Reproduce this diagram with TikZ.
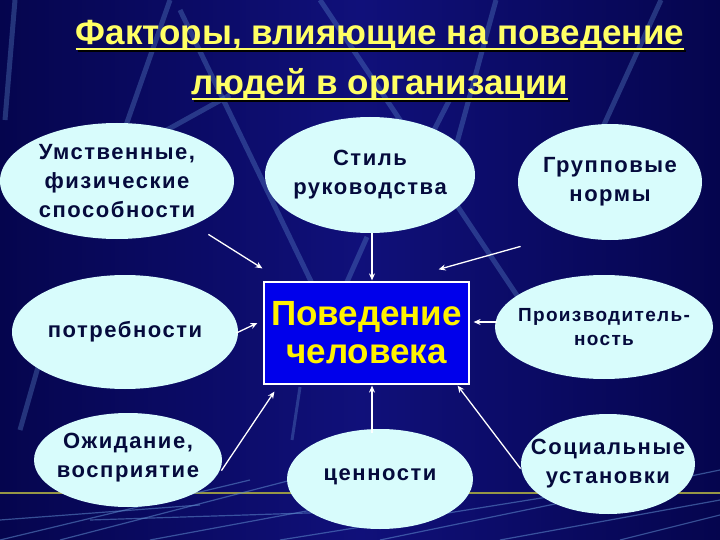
\documentclass[tikz,border=0pt]{standalone}
\usepackage{fontspec}
\setmainfont{Liberation Sans}
\newfontfamily\ellfont[LetterSpace=7]{Liberation Sans}
\usetikzlibrary{shapes.geometric,calc,arrows.meta}
\definecolor{bgdark}{RGB}{5,5,78}
\definecolor{bgmid}{RGB}{16,16,122}
\definecolor{ellfill}{RGB}{216,252,252}
\definecolor{elltext}{RGB}{5,10,60}
\definecolor{titleyel}{RGB}{255,255,100}
\definecolor{boxblue}{RGB}{0,0,235}
\definecolor{deco}{RGB}{95,140,205}
\definecolor{olive}{RGB}{150,150,70}
\tikzset{
  ell/.style={ellipse, fill=ellfill, draw=none, inner sep=0pt},
  etext/.style={inner sep=0pt, align=center, text=elltext,
    font=\ellfont\fontsize{22}{29}\selectfont\bfseries},
  arr/.style={draw=white, line width=1.3pt, -{Stealth[length=7pt,width=6pt]}},
  ttl/.style={inner sep=0pt, anchor=base, font=\fontsize{35}{40}\selectfont\bfseries},
  decoline/.style={draw=deco, line width=5pt, opacity=0.35},
  thinline/.style={draw=deco, line width=1.2pt, opacity=0.55}
}
\begin{document}
\begin{tikzpicture}[x=1pt,y=-1pt]
% background
\shade[left color=bgdark, right color=bgdark, middle color=bgmid] (0,0) rectangle (720,540);
\useasboundingbox (0,0) rectangle (720,540);
% decorative web lines
\draw[decoline] (180,10) -- (320,300);
\draw[decoline] (320,0) -- (520,300);
\draw[decoline] (496,0) -- (455,150);
\draw[decoline] (450,99) -- (431,136);
\draw[decoline] (367,237) -- (347,282);
\draw[decoline] (661,0) -- (597,140);
\draw[decoline] (124,131) -- (170,0);
\draw[decoline] (156,136) -- (230,95);
\draw[decoline] (15,0) -- (5,120);
\draw[decoline,line width=3pt] (300,387) -- (292,440);
\draw[decoline] (20,430) -- (40,360);
% bottom area
\draw[draw=olive, line width=2pt] (0,493) -- (720,493);
\draw[thinline] (0,540) -- (250,480);
\draw[thinline] (60,540) -- (330,470);
\draw[thinline] (150,540) -- (420,490);
\draw[thinline] (0,520) -- (200,505);
\draw[thinline] (280,540) -- (560,495);
\draw[thinline] (380,540) -- (720,470);
\draw[thinline] (500,540) -- (720,500);
\draw[thinline] (620,540) -- (720,515);
\draw[thinline] (90,520) -- (400,510);
% title
\node[ttl, text=titleyel] (t1) at (380,45) {Факторы, влияющие на поведение};
\node[ttl, text=titleyel] (t2) at (380,95) {людей в организации};
\draw[black, line width=2pt] ($(t1.base west)+(2,6)$) -- ($(t1.base east)+(2,6)$);
\draw[titleyel, line width=2pt] ($(t1.base west)+(0,4)$) -- ($(t1.base east)+(0,4)$);
\draw[black, line width=2pt] ($(t2.base west)+(2,6)$) -- ($(t2.base east)+(2,6)$);
\draw[titleyel, line width=2pt] ($(t2.base west)+(0,4)$) -- ($(t2.base east)+(0,4)$);
% ellipses
\node[ell, minimum width=234pt, minimum height=116pt] (e1) at (117,181) {};
\node[etext] (e1t) at (e1.center) {Умственные,\\физические\\способности};
\node[ell, minimum width=210pt, minimum height=116pt] (e2) at (370,175) {};
\node[etext] (e2t) at (e2.center) {Стиль\\руководства};
\node[ell, minimum width=184pt, minimum height=116pt] (e3) at (610,182) {};
\node[etext] (e3t) at (e3.center) {Групповые\\нормы};
\node[ell, minimum width=226pt, minimum height=114pt] (e4) at (125,332) {};
\node[etext] (e4t) at (e4.center) {потребности};
\node[ell, minimum width=218pt, minimum height=104pt] (e5) at (604,327) {};
\node[etext, font=\ellfont\fontsize{19}{24}\selectfont\bfseries] (e5t) at (e5.center) {Производитель-\\ность};
\node[ell, minimum width=188pt, minimum height=94pt] (e6) at (128,460) {};
\node[etext] (e6t) at ($(e6.center)+(0,-2)$) {Ожидание,\\восприятие};
\node[ell, minimum width=186pt, minimum height=100pt] (e7) at (380,479) {};
\node[etext] (e7t) at ($(e7.center)+(0,-2)$) {ценности};
\node[ell, minimum width=174pt, minimum height=100pt] (e8) at (608,464) {};
\node[etext] (e8t) at (e8.center) {Социальные\\установки};
% central box
\node[draw=white, line width=1.2pt, fill=boxblue, minimum width=205pt, minimum height=102pt,
  inner sep=0pt, align=center, text=yellow, font=\fontsize{35}{38}\selectfont\bfseries] (box) at (366.5,333) {Поведение\\человека};
% arrows
\draw[arr] ($(box.north west)+(-55,-47)$) -- ($(box.north west)+(-1,-13)$);
\draw[arr] ($(box.north)+(5.5,-48)$) -- ($(box.north)+(5.5,-1)$);
\draw[arr] ($(box.north east)+(51,-35)$) -- ($(box.north east)+(-31,-12)$);
\draw[arr] ($(box.west)+(-27,0)$) -- ($(box.west)+(-6,-10)$);
\draw[arr] ($(box.east)+(27,-11)$) -- ($(box.east)+(4,-11)$);
\draw[arr] ($(box.south west)+(-42,86)$) -- ($(box.south west)+(11,7)$);
\draw[arr] ($(box.south)+(5.5,48)$) -- ($(box.south)+(5.5,1)$);
\draw[arr] ($(box.south east)+(51,84)$) -- ($(box.south east)+(-12,1)$);
\end{tikzpicture}
\end{document}
